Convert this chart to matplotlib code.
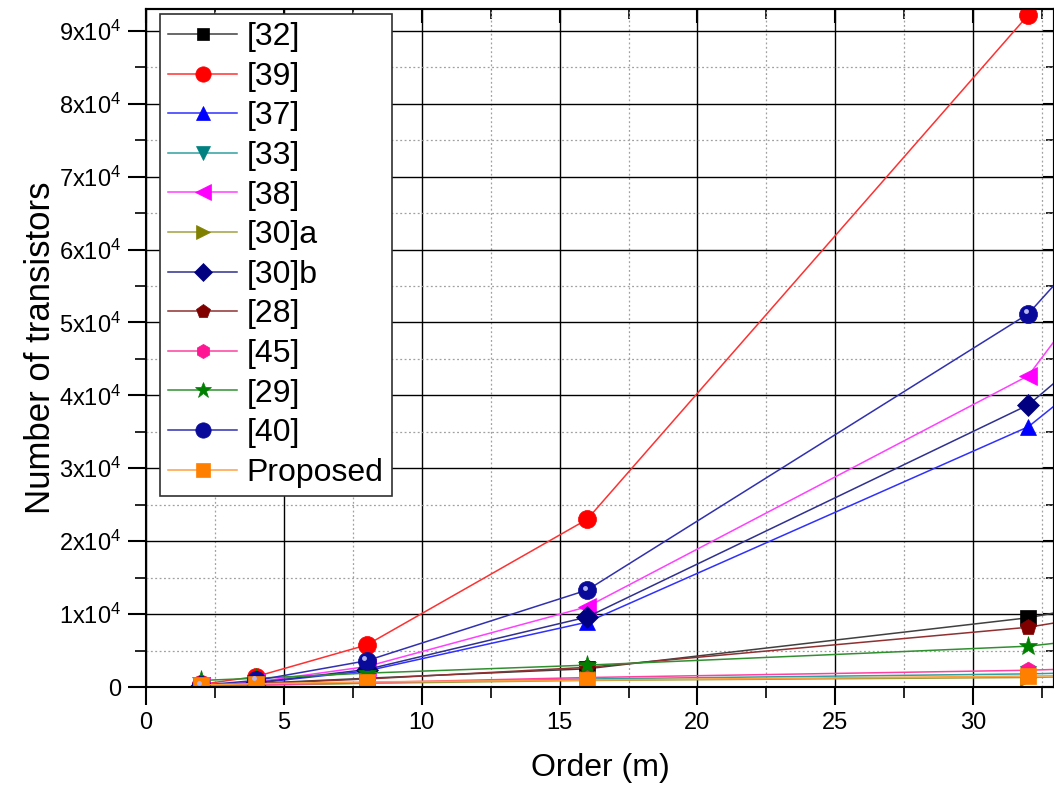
import matplotlib
matplotlib.use("Agg")
import matplotlib.pyplot as plt
import matplotlib.transforms as mtransforms
from matplotlib.ticker import MultipleLocator, FuncFormatter

plt.rcParams['font.family'] = ['Liberation Sans', 'DejaVu Sans']
plt.rcParams['mathtext.fontset'] = 'custom'
plt.rcParams['mathtext.rm'] = 'Liberation Sans'
plt.rcParams['mathtext.it'] = 'Liberation Sans'

# ---------------- data ----------------
orders = [2, 4, 8, 16, 32, 64]
labels = ["[32]", "[39]", "[37]", "[33]", "[38]", "[30]a", "[30]b",
          "[28]", "[45]", "[29]", "[40]", "Proposed"]

ref32 = [150, 500, 1200, 2500, 9500, 32000]
ref39 = [360, 1440, 5760, 23000, 92200, 368000]
ref37 = [140, 550, 2200, 8900, 35700, 133000]
ref33 = [120, 280, 550, 1100, 1800, 4500]
ref38 = [180, 700, 2800, 11000, 42700, 204000]
ref30a = [100, 250, 500, 900, 1300, 3500]
ref30b = [150, 600, 2400, 9600, 38700, 141000]
ref28 = [140, 450, 1100, 2700, 8200, 28000]
ref45 = [150, 300, 600, 1300, 2300, 6000]
ref29 = [900, 1200, 1900, 3000, 5600, 19000]
ref40 = [250, 900, 3600, 13300, 51200, 185600]
proposed = [300, 450, 700, 950, 1500, 3200]

series = [ref32, ref39, ref37, ref33, ref38, ref30a, ref30b,
          ref28, ref45, ref29, ref40, proposed]

# ---------------- styles ----------------
markers = ['s', 'o', '^', 'v', '<', '>', 'D', 'p', 'h', '*', 'o', 's']
mcolors = ['#000000', '#FF0000', '#0000FF', '#008080', '#FF00FF', '#808000',
           '#000080', '#800000', '#FF1493', '#008000', '#0A0A9A', '#FF8000']
lcolors = ['#404040', '#FF3030', '#3030FF', '#30A0A0', '#FF40FF', '#A0A040',
           '#303090', '#903030', '#FF40A0', '#309030', '#3030B0', '#FFA040']
msizes = [11, 13, 12, 12, 13, 12, 11, 12, 12, 14, 13, 12]

fig = plt.figure(figsize=(10.54, 7.87), dpi=100)
ax = fig.add_axes([146/1054, 1-687/787, (1054-146)/1054, (687-9)/787])

handles = []
for vals, lab, m, mc, lc, ms in zip(series, labels, markers, mcolors, lcolors, msizes):
    h, = ax.plot(orders, vals, color=lc, lw=1.1, marker=m, markersize=ms,
                 markerfacecolor=mc, markeredgecolor=mc, markeredgewidth=0.5,
                 label=lab, clip_on=True)
    handles.append(h)

# glossy highlight on the sphere markers of [40]
hl = mtransforms.offset_copy(ax.transData, fig=fig, x=-2.5, y=2.5, units='dots')
ax.plot(orders, ref40, ls='none', marker='o', markersize=3.5, transform=hl,
        markerfacecolor='#B8B8F0', markeredgecolor='none')

ax.set_xlim(0, 32.93)
ax.set_ylim(0, 93000)

ax.xaxis.set_major_locator(MultipleLocator(5))
ax.xaxis.set_minor_locator(MultipleLocator(2.5))
ax.yaxis.set_major_locator(MultipleLocator(10000))
ax.yaxis.set_minor_locator(MultipleLocator(5000))


def yfmt(v, pos):
    if v == 0:
        return "0"
    return r"%dx10$^{4}$" % int(round(v / 10000))


ax.yaxis.set_major_formatter(FuncFormatter(yfmt))

ax.grid(which='major', color='black', lw=1.0, ls='-')
ax.grid(which='minor', color='#A0A0A0', lw=0.9, ls=(0, (1.5, 2)))
ax.set_axisbelow(True)

for s in ax.spines.values():
    s.set_linewidth(1.5)

ax.tick_params(which='major', direction='out', length=13, width=1.5,
               labelsize=17, pad=5)
ax.tick_params(which='minor', direction='out', length=8, width=1.2)
# inward ticks on the top and right axes
axt = ax.secondary_xaxis('top')
axt.xaxis.set_major_locator(MultipleLocator(5))
axt.xaxis.set_minor_locator(MultipleLocator(2.5))
axt.tick_params(which='major', direction='in', length=10, width=1.5, labeltop=False)
axt.tick_params(which='minor', direction='in', length=7, width=1.2)
axr = ax.secondary_yaxis('right')
axr.yaxis.set_major_locator(MultipleLocator(10000))
axr.yaxis.set_minor_locator(MultipleLocator(5000))
axr.tick_params(which='major', direction='in', length=8, width=1.5, labelright=False)
axr.tick_params(which='minor', direction='in', length=6, width=1.2)
for sec in (axt, axr):
    for s in sec.spines.values():
        s.set_linewidth(1.5)

ax.set_xlabel("Order (m)", fontsize=23, labelpad=14)
ax.set_ylabel("Number of transistors", fontsize=25, labelpad=1)

leg = ax.legend(handles=handles, loc='upper left', bbox_to_anchor=(14/908, 1 - 5/678),
                fontsize=23, frameon=True, fancybox=False, edgecolor='#303030',
                framealpha=1.0, handlelength=2.15, handletextpad=0.3,
                labelspacing=0.30, borderpad=0.26, borderaxespad=0.0,
                markerscale=0.85)
leg.get_frame().set_linewidth(1.2)

fig.savefig("out.png", dpi=100)
